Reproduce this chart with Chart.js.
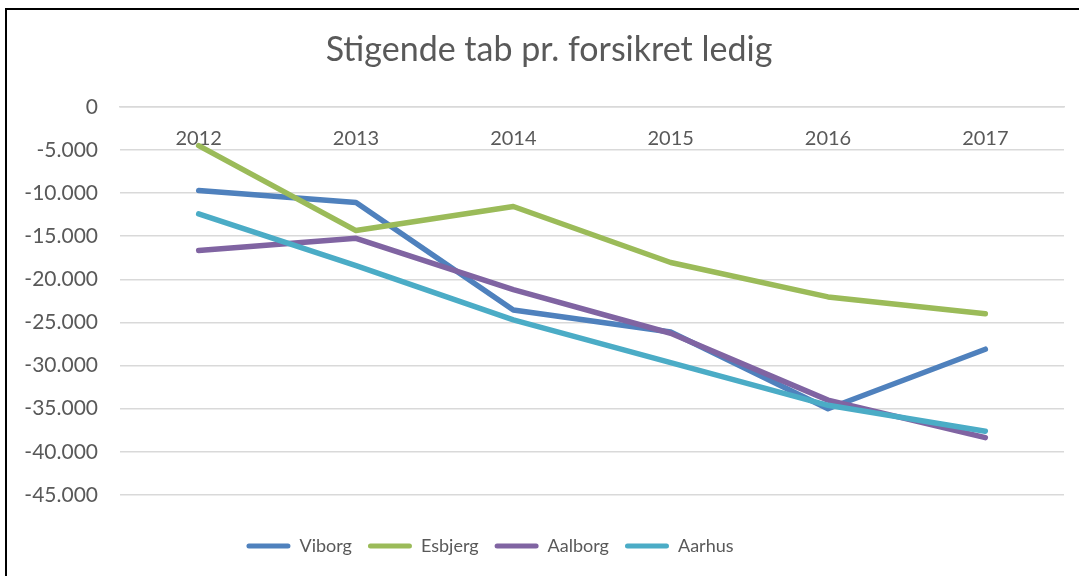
<!DOCTYPE html>
<html>
<head>
<meta charset="utf-8">
<script src="https://cdn.jsdelivr.net/npm/chart.js@4"></script>
<style>
  html, body { margin: 0; padding: 0; background: #fff; overflow: hidden; }
  #frame { position: absolute; left: 5px; top: 8px; width: 1100px; height: 600px; border: 2px solid #000; }
  #chart { position: absolute; left: 0; top: 0; }
</style>
</head>
<body>
<div id="frame"></div>
<canvas id="chart" width="1079" height="576"></canvas>
<script>
// Data
const years = ['2012', '2013', '2014', '2015', '2016', '2017'];
const viborg  = [-9700, -11100, -23550, -26100, -35000, -28100];
const esbjerg = [-4500, -14350, -11560, -18050, -22040, -24000];
const aalborg = [-16670, -15250, -21200, -26250, -34000, -38350];
const aarhus  = [-12400, -18400, -24700, -29650, -34600, -37600];
const yTicks = { min: -45000, max: 0, step: 5000 };

const grey = '#595959';
Chart.defaults.font.family = 'Lato';
Chart.defaults.color = grey;

// Danish thousands separator: -5.000
const fmt = v => v.toString().replace(/\B(?=(\d{3})+(?!\d))/g, '.');

const line = (label, data, color, order) => ({
  label, data, order,
  borderColor: color,
  backgroundColor: color,
  borderWidth: 5.5,
  borderCapStyle: 'round',
  borderJoinStyle: 'round',
  pointRadius: 0,
  tension: 0
});

// title sits right of centre and legend left of centre in the original
const nudgeBlocks = {
  id: 'nudgeBlocks',
  afterLayout(chart) {
    chart.titleBlock.left += 17;
    chart.titleBlock.right += 17;
    chart.legend.left -= 42;
    chart.legend.right -= 42;
  }
};

const ctx = document.getElementById('chart').getContext('2d');
new Chart(ctx, {
  type: 'line',
  data: {
    labels: years,
    datasets: [
      line('Viborg', viborg, '#4F81BD', 4),
      line('Esbjerg', esbjerg, '#9BBB59', 3),
      line('Aalborg', aalborg, '#8064A2', 2),
      line('Aarhus', aarhus, '#4BACC6', 1)
    ]
  },
  options: {
    responsive: false,
    animation: false,
    layout: { padding: { left: 0, right: 15, top: 0, bottom: 11 } },
    plugins: {
      tooltip: { enabled: false },
      title: {
        display: true,
        text: 'Stigende tab pr. forsikret ledig',
        color: grey,
        font: { size: 34, weight: 'normal', lineHeight: 1.2 },
        padding: { top: 30, bottom: 36 }
      },
      legend: {
        position: 'bottom',
        title: { display: true, text: '', font: { size: 10, lineHeight: 1 }, padding: { top: 16, bottom: 0 } },
        labels: {
          color: grey,
          font: { size: 18 },
          boxWidth: 44,
          boxHeight: 5,
          padding: 16,
          useBorderRadius: true,
          sort: (a, b) => a.datasetIndex - b.datasetIndex,
          generateLabels(chart) {
            const items = Chart.defaults.plugins.legend.labels.generateLabels(chart);
            items.forEach(it => { it.lineWidth = 0; it.borderRadius = 2.5; });
            return items;
          }
        }
      }
    },
    scales: {
      x: {
        type: 'category',
        offset: true,
        position: { y: 0 },
        grid: { display: false, drawTicks: false },
        border: { display: true, color: '#d9d9d9', width: 1.5 },
        ticks: { color: grey, font: { size: 20 }, padding: 20, maxRotation: 0 }
      },
      y: {
        min: yTicks.min,
        max: yTicks.max,
        afterFit(scale) { scale.width = 120; },
        grid: { color: '#d9d9d9', lineWidth: 1.5, drawTicks: false },
        border: { display: false },
        ticks: {
          stepSize: yTicks.step,
          color: grey,
          font: { size: 21 },
          padding: 22,
          callback: v => fmt(v)
        }
      }
    }
  },
  plugins: [nudgeBlocks]
});
</script>
</body>
</html>
